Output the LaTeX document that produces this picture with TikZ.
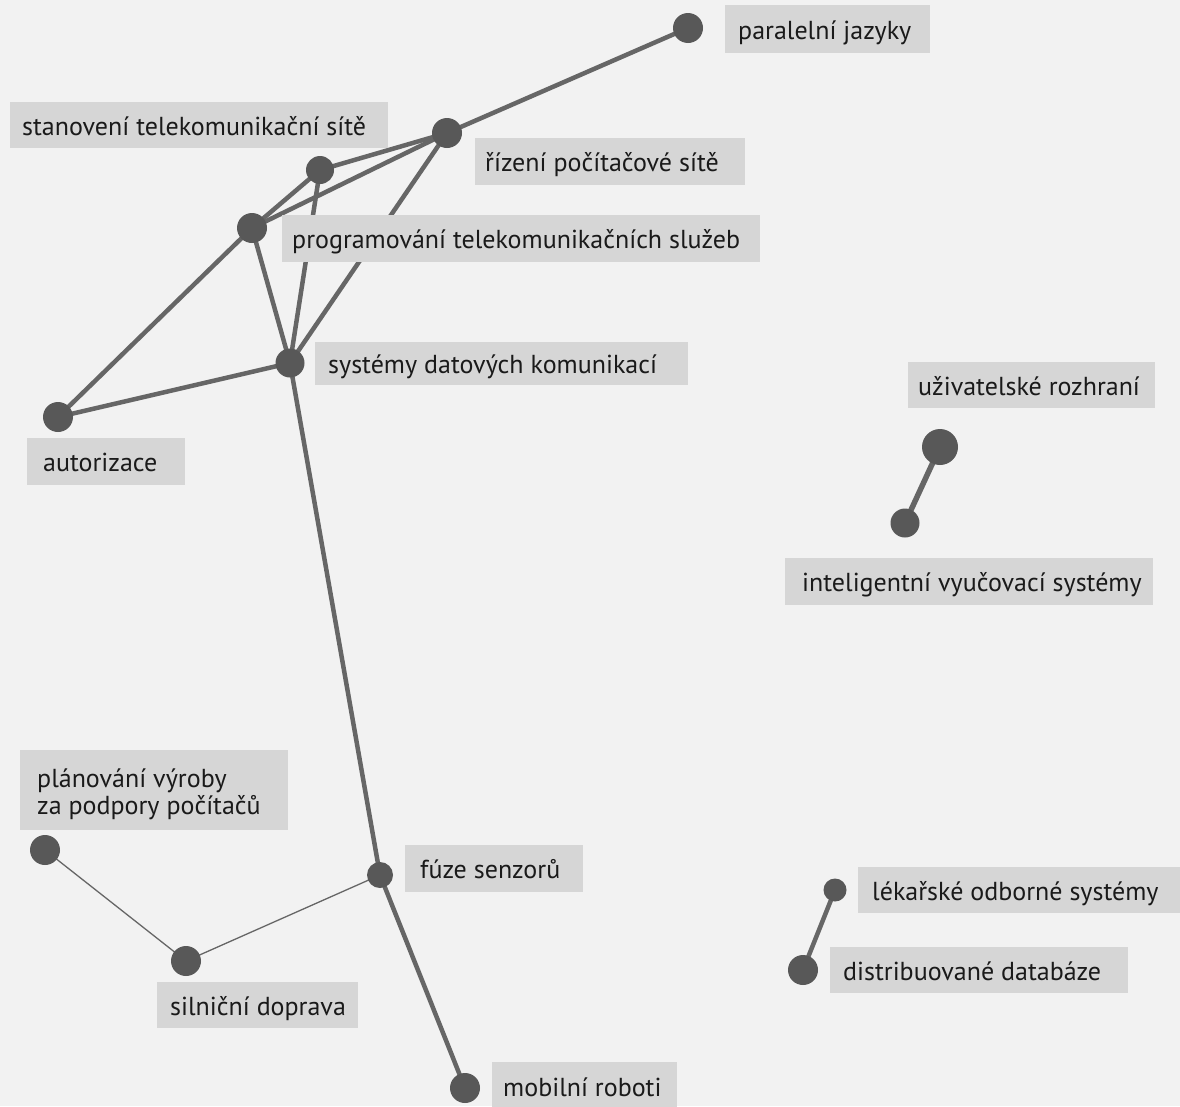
\documentclass[tikz,border=0pt]{standalone}
\usepackage{fontspec}
\setmainfont{PT Sans}
\definecolor{bgcol}{HTML}{F2F2F2}
\definecolor{boxfill}{HTML}{D6D6D6}
\definecolor{edgecol}{HTML}{666666}
\definecolor{dotcol}{HTML}{585858}
\definecolor{textcol}{HTML}{1A1A1A}
\pgfdeclarelayer{bg}
\pgfdeclarelayer{edges}
\pgfdeclarelayer{boxes}
\pgfsetlayers{bg,edges,boxes,main}
\tikzset{
  dot/.style={circle, fill=dotcol, draw=none, inner sep=0pt, minimum size=#1},
  dot/.default=30pt,
  thickedge/.style={draw=edgecol, line width=4.5pt},
  heavyedge/.style={draw=edgecol, line width=5.5pt},
  thinedge/.style={draw=edgecol, line width=1.3pt},
  lbl/.style={anchor=base west, inner sep=0pt, text=textcol, font=\fontsize{26}{27}\selectfont},
}
\newcommand\mylabel[7]{%
  \begin{pgfonlayer}{boxes}\fill[boxfill] (#2,#3) rectangle (#4,#5);\end{pgfonlayer}
  \node[lbl] (#1) at (#6,{(#3+#5)/2+10}) {#7};}
\begin{document}
\begin{tikzpicture}[x=1pt,y=-1pt]
\useasboundingbox (0,0) rectangle (1180,1106);
\begin{pgfonlayer}{bg}
\fill[bgcol] (0,0) rectangle (1180,1106);
\end{pgfonlayer}
% dots
\node[dot=30pt] (P)  at (688,28) {};
\node[dot=30pt] (R)  at (447,133) {};
\node[dot=28pt] (S)  at (320,170) {};
\node[dot=30pt] (PT) at (252,228) {};
\node[dot=29pt] (SD) at (290,363) {};
\node[dot=30pt] (A)  at (58,417) {};
\node[dot=36pt] (U)  at (940,447) {};
\node[dot=29pt] (I)  at (905,523) {};
\node[dot=30pt] (PL) at (45,850) {};
\node[dot=26pt] (F)  at (380,875) {};
\node[dot=23pt] (L)  at (835,890) {};
\node[dot=30pt] (D)  at (803,970) {};
\node[dot=30pt] (SI) at (186,961) {};
\node[dot=30pt] (M)  at (465,1088) {};
% edges
\begin{pgfonlayer}{edges}
\draw[thickedge] (P.center) -- (R.center);
\draw[thickedge] (R.center) -- (S.center);
\draw[thickedge] (R.center) -- (PT.center);
\draw[thickedge] (R.center) -- (SD.center);
\draw[thickedge] (S.center) -- (PT.center);
\draw[thickedge] (S.center) -- (SD.center);
\draw[thickedge] (PT.center) -- (SD.center);
\draw[thickedge] (PT.center) -- (A.center);
\draw[thickedge] (SD.center) -- (A.center);
\draw[thickedge] (SD.center) -- (F.center);
\draw[thickedge] (F.center) -- (M.center);
\draw[thinedge] (PL.center) -- (SI.center);
\draw[thinedge] (SI.center) -- (F.center);
\draw[heavyedge] (U.center) -- (I.center);
\draw[thickedge] (L.center) -- (D.center);
\end{pgfonlayer}
% labels
\mylabel{Plab}{725}{5}{930}{53}{738}{paralelní jazyky}
\mylabel{Rlab}{475}{138}{745}{185}{485}{řízení počítačové sítě}
\mylabel{Slab}{10}{102}{388}{148}{22}{stanovení telekomunikační sítě}
\mylabel{PTlab}{282}{215}{760}{262}{292}{programování telekomunikačních služeb}
\mylabel{SDlab}{315}{342}{688}{385}{328}{systémy datových komunikací}
\mylabel{Alab}{27}{438}{185}{485}{43}{autorizace}
\mylabel{Ulab}{908}{362}{1155}{408}{918}{uživatelské rozhraní}
\mylabel{Ilab}{785}{558}{1153}{605}{802}{inteligentní vyučovací systémy}
\begin{pgfonlayer}{boxes}\fill[boxfill] (20,750) rectangle (288,830);\end{pgfonlayer}
\node[lbl] (PLlab1) at (37,787) {plánování výroby};
\node[lbl] (PLlab2) at (37,814) {za podpory počítačů};
\mylabel{Flab}{405}{845}{583}{892}{420}{fúze senzorů}
\mylabel{Llab}{858}{867}{1180}{913}{872}{lékařské odborné systémy}
\mylabel{Dlab}{830}{947}{1128}{993}{843}{distribuované databáze}
\mylabel{SIlab}{157}{982}{358}{1028}{170}{silniční doprava}
\mylabel{Mlab}{492}{1062}{677}{1110}{503}{mobilní roboti}
\end{tikzpicture}
\end{document}
